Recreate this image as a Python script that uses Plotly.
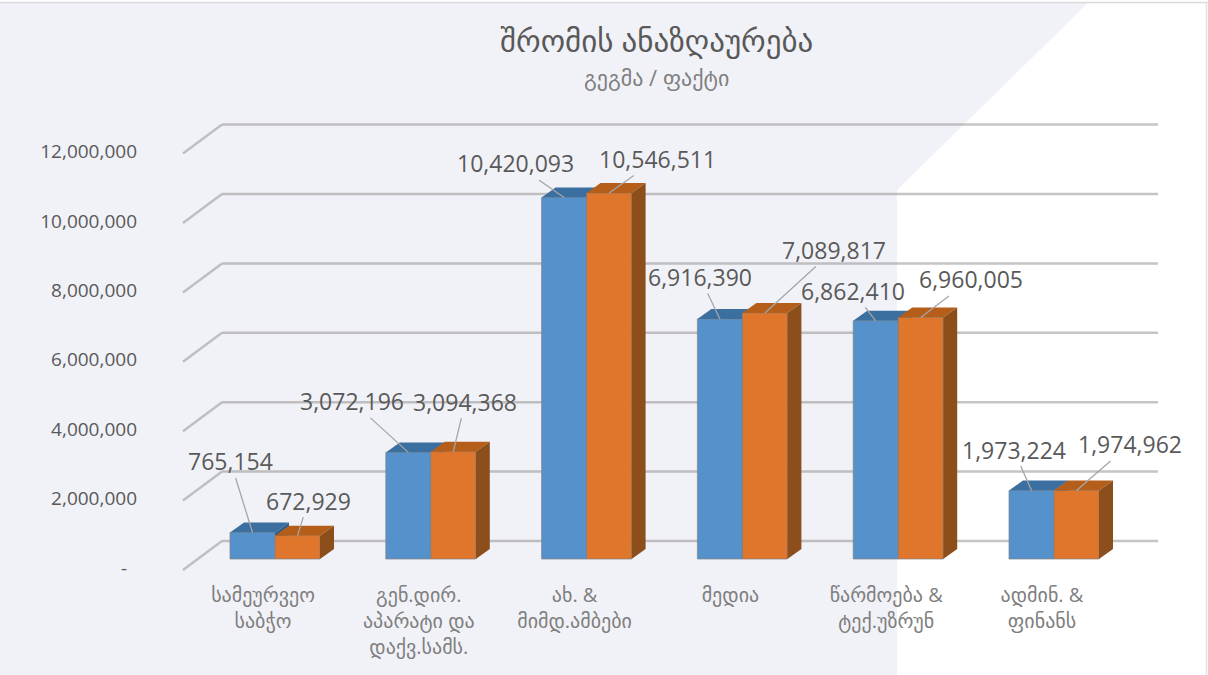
import plotly.graph_objects as go

# ---- data ----
categories = ["სამეურვეო<br>საბჭო", "გენ.დირ.<br>აპარატი და<br>დაქვ.სამს.", "ახ. &<br>მიმდ.ამბები",
              "მედია", "წარმოება &<br>ტექ.უზრუნ", "ადმინ. &<br>ფინანს"]
plan = [765154, 3072196, 10420093, 6916390, 6862410, 1973224]
fact = [672929, 3094368, 10546511, 7089817, 6960005, 1974962]
tick_values = [0, 2000000, 4000000, 6000000, 8000000, 10000000, 12000000]
tick_labels = ["-\u00a0\u00a0", "2,000,000", "4,000,000", "6,000,000", "8,000,000", "10,000,000", "12,000,000"]
title = "შრომის ანაზღაურება"
subtitle = "გეგმა / ფაქტი"
plan_label_offset = [(-22, -71), (-56, -51), (-49, -34), (-20, -42), (-23, -30), (-18, -41)]
fact_label_offset = [(11, -35), (12, -50), (48, -34), (69, -63), (50, -38), (53, -46)]

# ---- geometry (pixels on the 1208x675 page) ----
W, H = 1208, 675
X0_PX, STEP_PX = 275.0, 155.8      # first category centre, category spacing
Y0_PX, M_PX = 559.0, 34.7          # bar baseline, pixels per million
PLOT_L, PLOT_R, PLOT_T, PLOT_B = 138, 1170, 100, 578
BAR_PX = 45.0
DX, DY = 14 / STEP_PX, 10 / M_PX * 1e6     # bar depth in data units
BAR = BAR_PX / STEP_PX

xr = [(PLOT_L - X0_PX) / STEP_PX, (PLOT_R - X0_PX) / STEP_PX]
yr = [(Y0_PX - PLOT_B) / M_PX * 1e6, (Y0_PX - PLOT_T) / M_PX * 1e6]

GREY_TEXT = "#595959"
BLUE, BLUE_TOP, BLUE_SIDE = "#5592CC", "#3B6F9F", "#2F5F8C"
ORANGE, ORANGE_TOP, ORANGE_SIDE = "#E0762B", "#B55E1A", "#8C4E1B"
EDGE = "rgba(130,130,130,0.7)"
FONT = "Open Sans, DejaVu Sans, sans-serif"

xs = list(range(len(categories)))
fig = go.Figure()


def faces(values, left, top_color, side_color, yaxis):
    """Top and side parallelograms of one series, computed from its values."""
    for i, v in enumerate(values):
        l = i + left
        r = l + BAR
        fig.add_trace(go.Scatter(
            x=[l, r, r + DX, l + DX, l], y=[v, v, v + DY, v + DY, v], yaxis=yaxis,
            mode="lines", line=dict(width=0), fill="toself", fillcolor=top_color,
            hoverinfo="skip", showlegend=False))
        fig.add_trace(go.Scatter(
            x=[r, r + DX, r + DX, r, r], y=[0, DY, v + DY, v, 0], yaxis=yaxis,
            mode="lines", line=dict(width=0), fill="toself", fillcolor=side_color,
            hoverinfo="skip", showlegend=False))


# plan on the main subplot, fact on an overlaid one so it covers plan's side face
fig.add_trace(go.Bar(x=xs, y=plan, width=BAR, offset=-BAR, name="გეგმა", showlegend=False,
                     marker=dict(color=BLUE, line=dict(color=EDGE, width=1))))
faces(plan, -BAR, BLUE_TOP, BLUE_SIDE, "y")
fig.add_trace(go.Bar(x=xs, y=fact, width=BAR, offset=0, name="ფაქტი", showlegend=False, yaxis="y2",
                     marker=dict(color=ORANGE, line=dict(color=EDGE, width=1))))
faces(fact, 0, ORANGE_TOP, ORANGE_SIDE, "y2")

# ---- background panel and page borders ----
def px(x):
    return x / W


def py(y):
    return 1 - y / H


shapes = [
    dict(type="path", xref="paper", yref="paper", layer="below", line=dict(width=0), fillcolor="#F1F2F7",
         path=f"M 0 {py(3)} L {px(1088)} {py(3)} L {px(897)} {py(190)} L {px(897)} {py(675)} L 0 {py(675)} Z"),
    dict(type="line", xref="paper", yref="paper", layer="below", x0=0, x1=1, y0=py(2.5), y1=py(2.5),
         line=dict(color="#DADADF", width=1.5)),
    dict(type="line", xref="paper", yref="paper", layer="below", x0=px(1206.5), x1=px(1206.5), y0=py(2), y1=0,
         line=dict(color="#E2E2E6", width=1.5)),
]

# ---- 3-D "wall" gridlines derived from the tick values ----
GRID = dict(color="rgba(150,150,150,0.55)", width=2.5)
wall_l = (222 - X0_PX) / STEP_PX
wall_r = (1158 - X0_PX) / STEP_PX
floor_l = (183 - X0_PX) / STEP_PX
back = 18 / M_PX * 1e6
front = -11 / M_PX * 1e6
for t in tick_values:
    shapes.append(dict(type="line", xref="x", yref="y", layer="below", x0=wall_l, x1=wall_r,
                       y0=t + back, y1=t + back, line=GRID))
    shapes.append(dict(type="line", xref="x", yref="y", layer="below", x0=floor_l, x1=wall_l,
                       y0=t + front, y1=t + back, line=GRID))

# ---- data labels with leader lines ----
annotations = []
for values, side, offsets in ((plan, -BAR / 2, plan_label_offset), (fact, BAR / 2, fact_label_offset)):
    for i, (v, (ax, ay)) in enumerate(zip(values, offsets)):
        annotations.append(dict(
            x=i + side, y=v, xref="x", yref="y", text=f"{v:,}", showarrow=True, arrowhead=0,
            arrowwidth=1.3, arrowcolor="#A6A6A6", ax=ax, ay=ay, axref="pixel", ayref="pixel",
            font=dict(family=FONT, size=23, color=GREY_TEXT), borderpad=0))

annotations.append(dict(text=title, xref="paper", yref="paper", x=px(656), y=py(40), showarrow=False,
                        xanchor="center", yanchor="middle",
                        font=dict(family=FONT, size=31, color="#595959")))
annotations.append(dict(text=subtitle, xref="paper", yref="paper", x=px(656), y=py(77), showarrow=False,
                        xanchor="center", yanchor="middle",
                        font=dict(family=FONT, size=22, color="#7F7F7F")))

fig.update_layout(
    width=W, height=H, autosize=False, margin=dict(l=0, r=0, t=0, b=0),
    paper_bgcolor="white", plot_bgcolor="rgba(0,0,0,0)", showlegend=False,
    shapes=shapes, annotations=annotations,
    xaxis=dict(domain=[px(PLOT_L), px(PLOT_R)], range=xr, tickmode="array", tickvals=xs, ticktext=categories,
               showgrid=False, zeroline=False, showline=False, ticks="", ticklabelshift=-12, ticklabelstandoff=3,
               tickfont=dict(family=FONT, size=20, color="#7F7F7F"), automargin=False, tickangle=0),
    yaxis=dict(domain=[py(PLOT_B), py(PLOT_T)], range=yr, tickmode="array", tickvals=tick_values, ticktext=tick_labels,
               showgrid=False, zeroline=False, showline=False, ticks="", ticklabelshift=9,
               tickfont=dict(family=FONT, size=19, color=GREY_TEXT), automargin=False),
    yaxis2=dict(overlaying="y", matches="y", visible=False),
)

fig.write_html("out.html", config={"displayModeBar": False},
               post_script="document.body.style.margin='0';document.body.style.overflow='hidden';")
